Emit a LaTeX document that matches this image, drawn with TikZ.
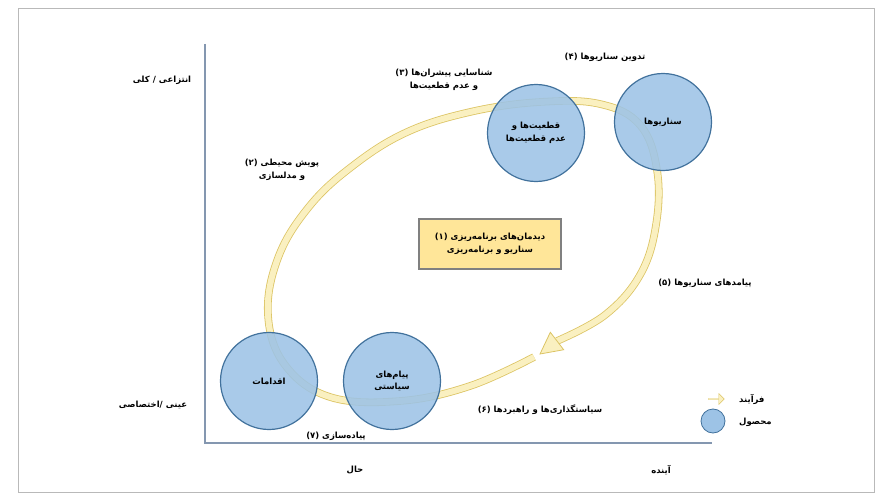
\documentclass[tikz,border=0pt]{standalone}
\usepackage{fontspec}
\usetikzlibrary{calc,shapes.arrows}
\newfontfamily\fafont[Script=Arabic]{DejaVu Sans}
\TeXXeTstate=1
\newcommand{\rl}[1]{\beginR #1\endR}
\definecolor{prodfill}{RGB}{157,195,230}
\definecolor{prodedge}{RGB}{65,113,156}
\definecolor{ringfill}{RGB}{250,240,192}
\definecolor{ringedge}{RGB}{220,196,100}
\definecolor{boxfill}{RGB}{255,230,153}
\definecolor{axiscol}{RGB}{132,151,176}

\begin{document}
\begin{tikzpicture}[x=1pt,y=-1pt,
  every node/.style={font=\fafont\bfseries\fontsize{8.5}{12.5}\selectfont,inner sep=1pt,align=center},
  product/.style={circle,draw=prodedge,line width=1.2pt,fill=prodfill,fill opacity=0.88,text opacity=1,minimum size=97pt},
  ring/.style={draw=ringedge,line width=0.8pt,double=ringfill,double distance=6pt},
  axis/.style={draw=axiscol,line width=1.8pt}]
  \useasboundingbox (0,0) rectangle (876,495);
  \draw[gray!55,line width=0.6pt] (18,8) rectangle (874,492);

  % axes
  \coordinate (origin) at (205,443);
  \coordinate (ytop) at (205,44);
  \coordinate (xend) at (712,443);
  \draw[axis] (ytop) -- (origin) -- (xend);

  % process ring
  \coordinate (headtip) at (540,354);
  \coordinate (headbase) at (557,341);
  \draw[ring] plot[smooth,tension=0.65] coordinates {(534,357) (470,386) (400,401) (330,397)
    (285,365) (268,315) (278,258) (308,208) (350,168) (405,133) (470,112) (540,102)
    (600,104) (640,125) (657,170) (656,225) (640,275) (605,315) (557,341)};
  \draw[ringedge,fill=ringfill,line width=0.8pt]
    ($(headbase)!11pt!90:(headtip)$) -- (headtip) -- ($(headbase)!11pt!-90:(headtip)$) -- cycle;

  % products
  \node[product] (certain) at (536,133) {\rl{قطعیت‌ها و}\\\rl{عدم قطعیت‌ها}};
  \node[product] (scenarios) at (663,122) {\rl{سناریوها}};
  \node[product] (messages) at (392,381) {\rl{پیام‌های}\\\rl{سیاستی}};
  \node[product] (actions) at (269,381) {\rl{اقدامات}};

  % centre box
  \node[draw=gray,line width=1.4pt,fill=boxfill,minimum width=142pt,minimum height=50pt,inner sep=4pt] (frame) at (490,244)
    {(۱) \rl{دیدمان‌های برنامه‌ریزی}\\\rl{سناریو و برنامه‌ریزی}};

  % steps
  \node (step2) at (282,170) {(۲) \rl{پویش محیطی}\\\rl{و مدلسازی}};
  \node (step3) at (444,80) {(۳) \rl{شناسایی پیشران‌ها}\\\rl{و عدم قطعیت‌ها}};
  \node (step4) at (605,57) {(۴) \rl{تدوین سناریوها}};
  \node (step5) at (705,283) {(۵) \rl{پیامدهای سناریوها}};
  \node (step6) at (540,410) {(۶) \rl{سیاستگذاری‌ها و راهبردها}};
  \node (step7) at (336,436) {(۷) \rl{پیاده‌سازی}};

  % axis labels
  \node (abstract) at (162,80) {\rl{انتزاعی / کلی}};
  \node (concrete) at (153,405) {\rl{عینی /اختصاصی}};
  \node (present) at (355,470) {\rl{حال}};
  \node (future) at (661,470) {\rl{آینده}};

  % legend
  \node[single arrow,draw=ringedge,fill=ringfill,minimum height=16pt,minimum width=11pt,single arrow head extend=2pt,inner sep=0pt] (procsign) at (716,399) {};
  \node[anchor=west] (proclabel) at (738,399) {\rl{فرآیند}};
  \node[circle,draw=prodedge,line width=0.8pt,fill=prodfill,minimum size=24pt,inner sep=0pt] (prodsign) at (713,421) {};
  \node[anchor=west] (prodlabel) at (738,422) {\rl{محصول}};
\end{tikzpicture}
\end{document}
